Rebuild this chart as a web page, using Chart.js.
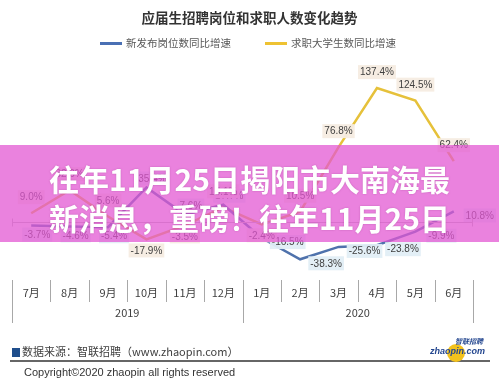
<!DOCTYPE html>
<html><head><meta charset="utf-8">
<script src="https://cdn.jsdelivr.net/npm/chart.js@4/dist/chart.umd.min.js"></script>
<style>
html,body{margin:0;padding:0;background:#fff;}
#wrap{position:relative;width:499px;height:389px;overflow:hidden;background:#fff;font-family:"Noto Sans CJK SC","Noto Sans",sans-serif;}
#c{position:absolute;left:0;top:0;}
.abs{position:absolute;white-space:nowrap;}
#title{left:0;width:499px;top:7px;text-align:center;font-size:13.5px;font-weight:bold;color:#333;line-height:20px;}
.lg{top:36px;font-size:10.5px;color:#595959;line-height:14px;}
.sw{position:absolute;height:2.5px;top:42px;}
#src{left:12px;top:343px;font-size:11px;color:#404040;line-height:16px;}
#src i{display:inline-block;width:8px;height:9px;background:#1f4e8c;margin-right:2px;vertical-align:-1px;}
#rule{left:10px;width:480px;top:360px;height:1.5px;background:#666;}
#copy{left:24px;top:364px;font-size:11px;color:#333;font-family:"Liberation Sans",Arial,sans-serif;line-height:16px;}
#logo-c{left:447px;top:344px;width:18px;height:18px;border-radius:50%;background:#f3c21d;}
#logo-t{left:430px;top:346px;font-size:9px;font-weight:bold;font-style:italic;color:#23468f;font-family:"Liberation Sans",Arial,sans-serif;}
#logo-z{left:455px;top:336px;font-size:7px;font-weight:bold;font-style:italic;color:#23468f;}
#banner{left:0;top:145px;width:499px;height:97px;background:rgba(226,86,210,0.74);}
.bt{left:0;width:499px;text-align:center;color:#fff;font-weight:bold;font-size:30px;line-height:36px;text-shadow:0 0 2px rgba(120,30,110,0.35);}
</style></head>
<body>
<div id="wrap">
<canvas id="c" width="499" height="389"></canvas>
<div class="abs" id="title">应届生招聘岗位和求职人数变化趋势</div>
<div class="sw" style="left:100px;width:22px;background:#4a70b4;"></div>
<div class="abs lg" style="left:126px;">新发布岗位数同比增速</div>
<div class="sw" style="left:265px;width:22px;background:#eec232;"></div>
<div class="abs lg" style="left:291px;">求职大学生数同比增速</div>
<div class="abs" id="src"><i></i>数据来源：智联招聘（www.zhaopin.com）</div>
<div class="abs" id="rule"></div>
<div class="abs" id="copy">Copyright©2020 zhaopin all rights reserved</div>
<div class="abs" id="logo-c"></div>
<div class="abs" id="logo-z">智联招聘</div>
<div class="abs" id="logo-t">zhaopin.com</div>
<div class="abs" id="banner"></div>
<div class="abs bt" style="top:160px;">往年11月25日揭阳市大南海最</div>
<div class="abs bt" style="top:199px;">新消息，重磅！往年11月25日</div>
</div>
<script>
const months = ['7月','8月','9月','10月','11月','12月','1月','2月','3月','4月','5月','6月'];
const years = ['2019','2020'];
const jobPostGrowth = [-3.7, -4.6, -5.4, 35.4, 7.6, 17.7, -16.5, -38.3, -25.6, -23.8, -9.9, 10.8];
const seekerGrowth = [9.0, 32.6, 5.6, -17.9, -3.5, 15.1, -2.4, 10.5, 76.8, 137.4, 124.5, 62.4];
const seriesNames = ['新发布岗位数同比增速','求职大学生数同比增速'];

const deco = {
  id:'deco',
  afterDraw(chart){
    const ctx = chart.ctx, ca = chart.chartArea, y = chart.scales.y;
    const y0 = Math.round(y.getPixelForValue(0)) + 0.5;
    ctx.save();
    ctx.strokeStyle = '#bcbcbc'; ctx.lineWidth = 1;
    ctx.beginPath(); ctx.moveTo(ca.left, y0); ctx.lineTo(ca.right, y0); ctx.stroke();
    ctx.beginPath();
    ctx.moveTo(ca.left+0.5, y0-4); ctx.lineTo(ca.left+0.5, y0+4);
    ctx.moveTo(ca.right-0.5, y0-4); ctx.lineTo(ca.right-0.5, y0+4);
    ctx.stroke();
    const n = months.length, step = (ca.right - ca.left) / n;
    const yearStart = months.indexOf('1月');
    ctx.strokeStyle = '#a8a8a8';
    ctx.beginPath();
    for (let i = 0; i <= n; i++) {
      const px = Math.round(ca.left + i*step) + 0.5;
      const long = (i === 0 || i === n || i === yearStart);
      ctx.moveTo(px, 280); ctx.lineTo(px, long ? 323 : 302);
    }
    ctx.stroke();
    ctx.restore();
  },
  afterDatasetsDraw(chart){
    const ctx = chart.ctx;
    ctx.save();
    ctx.font = '10px "Liberation Sans", Arial, sans-serif';
    ctx.textAlign = 'center'; ctx.textBaseline = 'middle';
    chart.data.datasets.forEach((ds, di) => {
      const meta = chart.getDatasetMeta(di);
      meta.data.forEach((pt, i) => {
        const v = ds.data[i];
        const txt = v.toFixed(1) + '%';
        let cx, cy;
        if (di === 1) { cx = pt.x; cy = v >= 0 ? pt.y - 16 : pt.y + 11; }
        else if (i < 6) { cx = pt.x + 6; cy = v >= 0 ? pt.y - 9 : pt.y + 9; }
        else { cx = pt.x + 26; cy = pt.y + 4; }
        const w = ctx.measureText(txt).width;
        ctx.fillStyle = di === 1 ? 'rgba(246,236,226,0.95)' : 'rgba(226,238,246,0.95)';
        ctx.fillRect(cx - w/2 - 2, cy - 7, w + 4, 14);
        ctx.fillStyle = '#404040';
        ctx.fillText(txt, cx, cy + 0.5);
      });
    });
    ctx.restore();
  }
};

new Chart(document.getElementById('c'), {
  type: 'line',
  data: {
    labels: months,
    datasets: [
      { label: seriesNames[0], data: jobPostGrowth, borderColor: '#4f72ac', borderWidth: 2.5, pointRadius: 0, tension: 0, fill: false },
      { label: seriesNames[1], data: seekerGrowth, borderColor: '#e6c13a', borderWidth: 2.5, pointRadius: 0, tension: 0, fill: false }
    ]
  },
  options: {
    responsive: false, animation: false, devicePixelRatio: 1,
    layout: { padding: { left: 12, right: 26, top: 60, bottom: 66.6 } },
    plugins: { legend: { display: false }, title: { display: false }, tooltip: { enabled: false } },
    scales: {
      x: { type: 'category', position: 'bottom', weight: 0, offset: true,
           grid: { display: false, drawTicks: false }, border: { display: false },
           ticks: { padding: 4, color: '#404040', autoSkip: false, maxRotation: 0,
                    font: { size: 11, family: '"Noto Sans CJK SC", sans-serif' } } },
      x2: { type: 'category', labels: years, position: 'bottom', weight: 1, offset: true,
           grid: { display: false, drawTicks: false }, border: { display: false },
           ticks: { padding: 2.8, color: '#404040', maxRotation: 0,
                    font: { size: 11, family: '"Noto Sans CJK SC", sans-serif' } } },
      y: { display: false, min: -62, max: 166.2 }
    }
  },
  plugins: [deco]
});
</script>
</body></html>
